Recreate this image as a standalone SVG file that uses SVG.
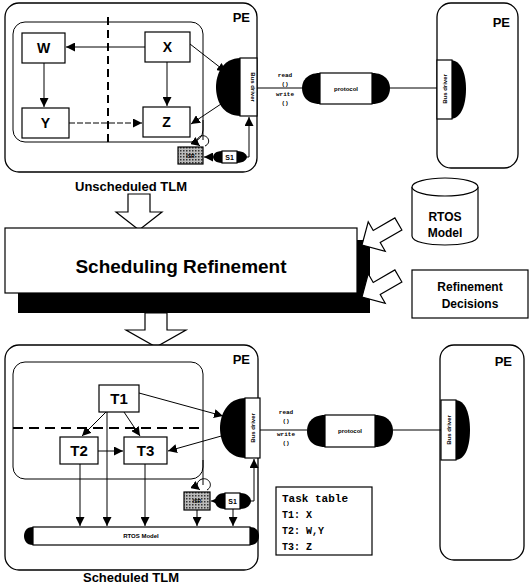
<svg xmlns="http://www.w3.org/2000/svg" width="530" height="587" viewBox="0 0 530 587">
<defs>
<marker id="ah" viewBox="0 0 10 10" refX="10" refY="5" markerWidth="9" markerHeight="9" markerUnits="userSpaceOnUse" orient="auto"><path d="M0,0 L10,5 L0,10 Z" fill="#000"/></marker>
<pattern id="dots" width="3" height="3" patternUnits="userSpaceOnUse"><rect width="3" height="3" fill="#bbb"/><rect width="1.5" height="1.5" fill="#333"/></pattern>
</defs>
<style>
.box{fill:#fff;stroke:#000;stroke-width:1.2}
.pe{fill:#fff;stroke:#000;stroke-width:1.3}
.ln{fill:none;stroke:#000;stroke-width:1}
.arr{fill:none;stroke:#000;stroke-width:1;marker-end:url(#ah)}
.blk{fill:#000}
.t{font-family:"Liberation Sans",Arial,sans-serif;font-weight:bold;fill:#000}
.m{font-family:"Liberation Mono","Courier New",monospace;font-weight:bold;fill:#000}
.hollow{fill:#fff;stroke:#000;stroke-width:1.2}
</style>
<rect width="530" height="587" fill="#fff"/>

<!-- ===== Top: Unscheduled TLM ===== -->
<g id="pe-top-left">
<rect class="pe" x="5" y="3" width="252" height="169" rx="14"/>
<text class="t" x="250" y="22" font-size="13" text-anchor="end">PE</text>
<rect class="ln" x="13" y="22" width="190" height="120" rx="12"/>
<line x1="108" y1="17" x2="108" y2="142" stroke="#000" stroke-width="2" stroke-dasharray="8,5"/>
</g>
<g id="W"><rect class="box" x="22" y="33" width="43" height="30"/><text class="t" x="43.5" y="53" font-size="14" text-anchor="middle">W</text></g>
<g id="X"><rect class="box" x="145" y="32" width="45" height="30"/><text class="t" x="167.5" y="52" font-size="14" text-anchor="middle">X</text></g>
<g id="Y"><rect class="box" x="22" y="108" width="47" height="30"/><text class="t" x="45.5" y="128" font-size="14" text-anchor="middle">Y</text></g>
<g id="Z"><rect class="box" x="143" y="107" width="47" height="30"/><text class="t" x="166.5" y="127" font-size="14" text-anchor="middle">Z</text></g>
<g id="busdrv-top-left">
<path class="blk" d="M241,58 C222,58 216,75 216,87 C216,100 222,116 241,116 Z"/>
<rect class="box" x="240" y="58" width="17" height="58"/>
<text class="t" font-size="6" text-anchor="middle" transform="translate(251,87) rotate(90)">Bus driver</text>
</g>
<g id="isr-top">
<rect x="178" y="147" width="25" height="17" fill="url(#dots)" stroke="#000" stroke-width="1.2"/>
<text class="t" x="190.5" y="158" font-size="5" text-anchor="middle">ISR</text>
</g>
<g id="s1-top">
<path class="blk" d="M222,151 C215,151 213,155 213,157 C213,159 215,163 222,163 Z"/>
<path class="blk" d="M237,151 C244,151 247,155 247,157 C247,159 244,163 237,163 Z"/>
<rect class="box" x="222" y="151" width="15" height="12"/>
<text class="t" x="229.5" y="160" font-size="7" text-anchor="middle">S1</text>
</g>
<g id="protocol-top">
<path class="blk" d="M320,73 C306,73 302,82 302,88 C302,95 306,104 320,104 Z"/>
<path class="blk" d="M372,73 C386,73 390,82 390,88 C390,95 386,104 372,104 Z"/>
<rect class="box" x="320" y="73" width="52" height="31"/>
<text class="t" x="346" y="91" font-size="6" text-anchor="middle">protocol</text>
</g>
<g id="pe-top-right">
<rect class="pe" x="437" y="3" width="81" height="165" rx="14"/>
<text class="t" x="510" y="27" font-size="13" text-anchor="end">PE</text>
<path class="blk" d="M450,60 C462,60 466,75 466,89 C466,103 462,119 450,119 Z"/>
<rect class="box" x="437" y="60" width="15" height="59"/>
<text class="t" font-size="6" text-anchor="middle" transform="translate(447,89) rotate(-90)">Bus driver</text>
</g>
<g id="rw-top">
<text class="m" x="285" y="77" font-size="6" text-anchor="middle">read</text>
<text class="m" x="285" y="86" font-size="6" text-anchor="middle">()</text>
<text class="m" x="285" y="96" font-size="6" text-anchor="middle">write</text>
<text class="m" x="285" y="105" font-size="6" text-anchor="middle">()</text>
</g>
<g id="connectors-top">
<line class="arr" x1="145" y1="47" x2="66" y2="47"/>
<line class="arr" x1="44" y1="63" x2="44" y2="107"/>
<line class="arr" x1="69" y1="123" x2="142" y2="123" stroke-dasharray="6,2"/>
<line class="arr" x1="167" y1="62" x2="167" y2="106"/>
<line class="arr" x1="190" y1="44" x2="226" y2="72"/>
<line class="arr" x1="230" y1="98" x2="191" y2="124"/>
<line class="ln" x1="257" y1="88" x2="302" y2="88"/>
<line class="ln" x1="390" y1="88" x2="437" y2="88"/>
<path class="ln" d="M203,120 L203,140"/>
<path class="arr" d="M205,146 C212,143 208,134 201,136 C196,138 196,143 200,146"/>
<line class="arr" x1="213" y1="157" x2="204" y2="157"/>
<path class="arr" d="M247,157 L249,157 L249,117"/>
</g>
<text class="t" x="131" y="191" font-size="13" text-anchor="middle">Unscheduled TLM</text>

<!-- ===== Middle ===== -->
<g id="arrow-in">
<path class="hollow" d="M128,194 L150,194 L150,212 L162,212 L139,230 L116,212 L128,212 Z"/>
</g>
<g id="sched-refinement">
<rect class="blk" x="18" y="240" width="352" height="73"/>
<rect class="box" x="5" y="228" width="352" height="65"/>
<text class="t" x="181" y="273" font-size="19" text-anchor="middle">Scheduling Refinement</text>
</g>
<g id="rtos-model">
<path class="box" d="M412,187 L412,236 C412,248 478,248 478,236 L478,187"/>
<ellipse class="box" cx="445" cy="187" rx="33" ry="9"/>
<text class="t" x="445" y="221" font-size="12" text-anchor="middle">RTOS</text>
<text class="t" x="445" y="237" font-size="12" text-anchor="middle">Model</text>
</g>
<g id="refinement-decisions">
<rect class="box" x="412" y="270" width="116" height="48"/>
<text class="t" x="470" y="291" font-size="12" text-anchor="middle">Refinement</text>
<text class="t" x="470" y="308" font-size="12" text-anchor="middle">Decisions</text>
</g>
<g id="arrows-side">
<path class="hollow" transform="translate(362,245) rotate(-30)" d="M0,0 L17,-17 L17,-7 L42,-7 L42,7 L17,7 L17,17 Z"/>
<path class="hollow" transform="translate(362,297) rotate(-30)" d="M0,0 L17,-17 L17,-7 L42,-7 L42,7 L17,7 L17,17 Z"/>
</g>
<g id="arrow-out">
<path class="hollow" d="M145,313 L167,313 L167,330 L186,330 L156,347 L126,330 L145,330 Z"/>
</g>

<!-- ===== Bottom: Scheduled TLM ===== -->
<g id="pe-bottom-left">
<rect class="pe" x="5" y="345" width="253" height="225" rx="14"/>
<text class="t" x="250" y="364" font-size="13" text-anchor="end">PE</text>
<rect class="ln" x="13" y="362" width="190" height="117" rx="12"/>
<line x1="13" y1="428" x2="203" y2="428" stroke="#000" stroke-width="2" stroke-dasharray="10,6"/>
</g>
<g id="T1"><rect class="box" x="99" y="385" width="40" height="27"/><text class="t" x="119" y="404" font-size="15" text-anchor="middle" font-weight="normal">T1</text></g>
<g id="T2"><rect class="box" x="60" y="437" width="38" height="27"/><text class="t" x="79" y="456" font-size="15" text-anchor="middle" font-weight="normal">T2</text></g>
<g id="T3"><rect class="box" x="124" y="437" width="43" height="27"/><text class="t" x="145.5" y="456" font-size="15" text-anchor="middle" font-weight="normal">T3</text></g>
<g id="rtos-bar">
<path class="blk" d="M33,527 C26,527 24,532 24,536 C24,540 26,545 33,545 Z"/>
<path class="blk" d="M250,527 C257,527 259,532 259,536 C259,540 257,545 250,545 Z"/>
<rect class="box" x="33" y="527" width="217" height="18"/>
<text class="t" x="141" y="538" font-size="6" text-anchor="middle" font-weight="normal">RTOS Model</text>
</g>
<g id="busdrv-bottom-left">
<path class="blk" d="M246,398 C227,398 220,415 220,428 C220,442 227,458 246,458 Z"/>
<rect class="box" x="245" y="398" width="15" height="60"/>
<text class="t" font-size="6" text-anchor="middle" transform="translate(255,428) rotate(-90)">Bus driver</text>
</g>
<g id="isr-bottom">
<rect x="184" y="492" width="26" height="18" fill="url(#dots)" stroke="#000" stroke-width="1.2"/>
<text class="t" x="197" y="503" font-size="5" text-anchor="middle">ISR</text>
</g>
<g id="s1-bottom">
<path class="blk" d="M225,493 C217,493 215,498 215,501 C215,504 217,509 225,509 Z"/>
<path class="blk" d="M240,493 C248,493 251,498 251,501 C251,504 248,509 240,509 Z"/>
<rect class="box" x="225" y="493" width="15" height="16"/>
<text class="t" x="232.5" y="504" font-size="7" text-anchor="middle">S1</text>
</g>
<g id="protocol-bottom">
<path class="blk" d="M325,415 C311,415 307,424 307,431 C307,438 311,447 325,447 Z"/>
<path class="blk" d="M375,415 C389,415 393,424 393,431 C393,438 389,447 375,447 Z"/>
<rect class="box" x="325" y="415" width="50" height="32"/>
<text class="t" x="350" y="433" font-size="6" text-anchor="middle" font-weight="normal">protocol</text>
</g>
<g id="pe-bottom-right">
<rect class="pe" x="440" y="345" width="84" height="215" rx="14"/>
<text class="t" x="512" y="366" font-size="13" text-anchor="end">PE</text>
<path class="blk" d="M455,400 C466,400 470,415 470,430 C470,445 466,460 455,460 Z"/>
<rect class="box" x="441" y="400" width="15" height="60"/>
<text class="t" font-size="6" text-anchor="middle" transform="translate(451,430) rotate(-90)">Bus driver</text>
</g>
<g id="rw-bottom">
<text class="m" x="286" y="414" font-size="6" text-anchor="middle">read</text>
<text class="m" x="286" y="423" font-size="6" text-anchor="middle">()</text>
<text class="m" x="286" y="436" font-size="6" text-anchor="middle">write</text>
<text class="m" x="286" y="445" font-size="6" text-anchor="middle">()</text>
</g>
<g id="task-table">
<rect class="box" x="276" y="487" width="96" height="68"/>
<text class="m" x="282" y="502" font-size="11">Task table</text>
<text class="m" x="282" y="518" font-size="10">T1: X</text>
<text class="m" x="282" y="534" font-size="10">T2: W,Y</text>
<text class="m" x="282" y="550" font-size="10">T3: Z</text>
</g>
<g id="connectors-bottom">
<line class="arr" x1="139" y1="393" x2="223" y2="416"/>
<line class="arr" x1="232" y1="433" x2="168" y2="451"/>
<line class="arr" x1="106" y1="412" x2="82" y2="436"/>
<line class="arr" x1="124" y1="412" x2="140" y2="436"/>
<line class="arr" x1="98" y1="451" x2="123" y2="451"/>
<line class="arr" x1="107" y1="412" x2="107" y2="526"/>
<line class="arr" x1="80" y1="464" x2="80" y2="526"/>
<line class="arr" x1="145" y1="464" x2="145" y2="526"/>
<line class="arr" x1="197" y1="510" x2="197" y2="526"/>
<line class="arr" x1="233" y1="509" x2="233" y2="526"/>
<line class="ln" x1="260" y1="430" x2="307" y2="430"/>
<line class="ln" x1="393" y1="430" x2="441" y2="430"/>
<line class="arr" x1="215" y1="501" x2="211" y2="501"/>
<path class="arr" d="M251,501 L254,501 L254,459"/>
<path class="ln" d="M203,460 L203,485"/>
<path class="arr" d="M207,490 C214,486 209,477 202,479 C196,481 196,487 200,490"/>
</g>
<text class="t" x="131" y="582" font-size="13" text-anchor="middle">Scheduled TLM</text>
</svg>
